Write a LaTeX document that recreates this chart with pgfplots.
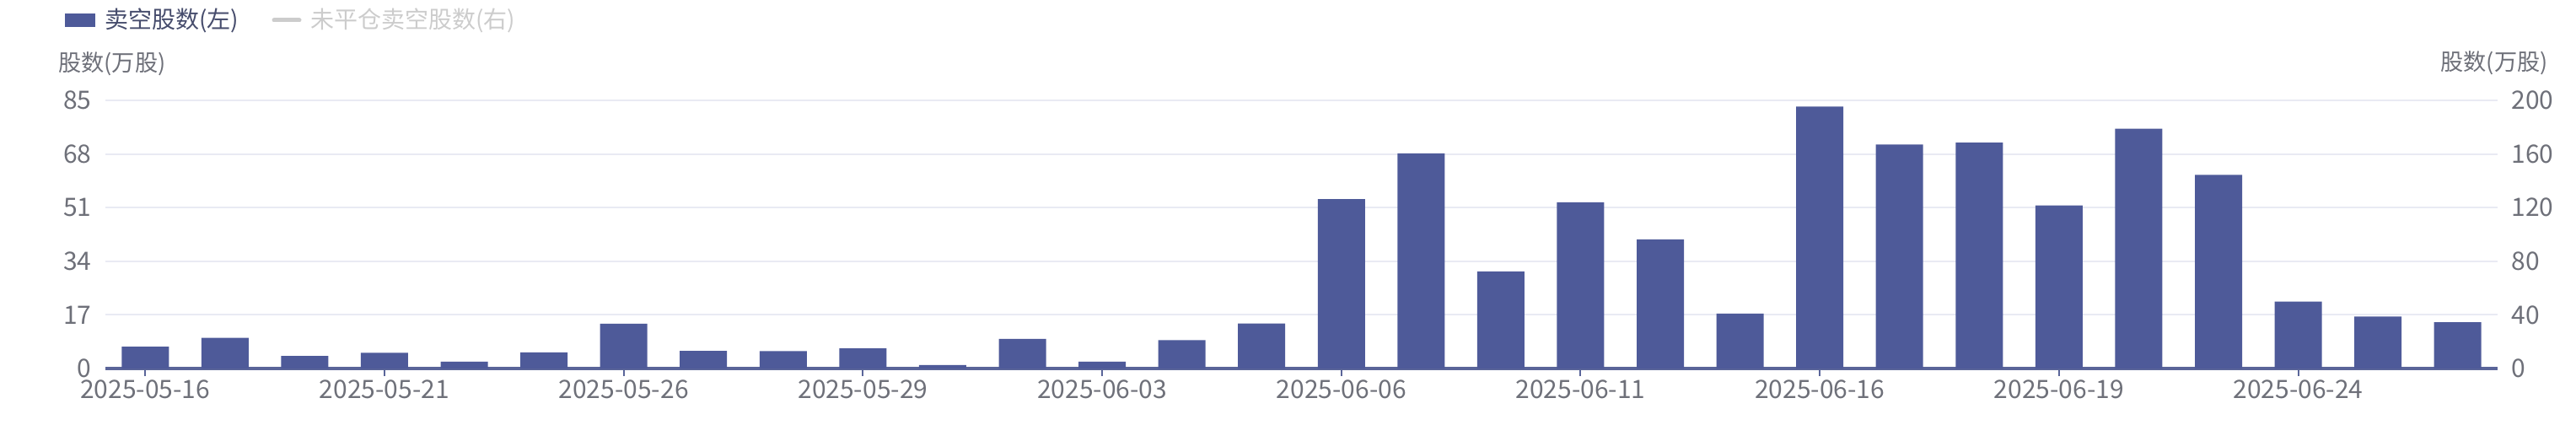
\documentclass[border=0pt]{standalone}
\usepackage{fontspec}
\setmainfont{Noto Sans CJK SC}
\usepackage{pgfplots}
\pgfplotsset{compat=1.18}
\definecolor{barc}{HTML}{4E5A99}
\definecolor{axisc}{HTML}{5A6599}
\definecolor{tickc}{HTML}{6E7079}
\definecolor{gridc}{HTML}{E9EAF3}
\definecolor{legc}{HTML}{464C6C}
\definecolor{offc}{HTML}{CCCCCC}
\pgfplotstableread{
x y
0 6.9
1 9.75
2 4.0
3 5.0
4 2.2
5 5.1
6 14.2
7 5.6
8 5.5
9 6.35
10 1.1
11 9.4
12 2.2
13 9.0
14 14.3
15 53.7
16 68.2
17 30.8
18 52.7
19 40.9
20 17.4
21 83.0
22 71.0
23 71.6
24 51.7
25 76.0
26 61.4
27 21.2
28 16.5
29 14.7
}\shortdata
\begin{document}
\begin{tikzpicture}
\useasboundingbox (0,0) rectangle (1527.5pt,251.5pt);
\begin{axis}[
  at={(62.5pt,33pt)}, anchor=south west,
  scale only axis, width=1418.5pt, height=159pt,
  xmin=-0.5, xmax=29.5, ymin=0, ymax=85,
  ytick={0,17,34,51,68,85},
  xtick={0,3,...,27},
  xticklabels={2025-05-16,2025-05-21,2025-05-26,2025-05-29,2025-06-03,2025-06-06,2025-06-11,2025-06-16,2025-06-19,2025-06-24},
  axis x line*=bottom, axis y line*=left,
  x axis line style={draw=axisc, line width=1.75pt, -},
  y axis line style={draw=none},
  tick align=outside, major tick length=4.5pt,
  xtick style={draw=axisc, line width=1pt},
  ytick style={draw=none},
  ymajorgrids, grid style={draw=gridc, line width=1pt},
  /pgf/number format/assume math mode=true,
  yticklabel style={font=\fontsize{15}{15}\selectfont, text=tickc, anchor=east, inner sep=0pt, xshift=-3.5pt},
  xticklabel style={font=\fontsize{15}{15}\selectfont, text=tickc, anchor=north, inner sep=0pt, yshift=-2pt},
  clip=false,
]
\addplot[ybar, bar width=28pt, fill=barc, draw=none] table[x=x, y=y] {\shortdata};
\end{axis}
\begin{axis}[
  at={(62.5pt,33pt)}, anchor=south west,
  scale only axis, width=1418.5pt, height=159pt,
  xmin=-0.5, xmax=29.5, ymin=0, ymax=200,
  ytick={0,40,80,120,160,200},
  axis x line=none, axis y line*=right,
  y axis line style={draw=none},
  tick align=outside, major tick length=4.5pt,
  ytick style={draw=none},
  /pgf/number format/assume math mode=true,
  yticklabel style={font=\fontsize{15}{15}\selectfont, text=tickc, anchor=west, inner sep=0pt, xshift=3.5pt},
]
\end{axis}
% legend
\fill[barc] (38.5pt,235.5pt) rectangle (56.5pt,243.5pt);
\node[anchor=west, inner sep=0pt, text=legc, font=\fontsize{14}{14}\selectfont] at (62pt,239.5pt) {卖空股数(左)};
\draw[offc, line width=2.5pt, line cap=round] (162.5pt,239.5pt) -- (177.5pt,239.5pt);
\node[anchor=west, inner sep=0pt, text=offc, font=\fontsize{14}{14}\selectfont] at (184pt,239.5pt) {未平仓卖空股数(右)};
% axis titles
\node[anchor=west, inner sep=0pt, text=tickc, font=\fontsize{13.6}{13.6}\selectfont] at (34.5pt,213.5pt) {股数(万股)};
\node[anchor=east, inner sep=0pt, text=tickc, font=\fontsize{13.6}{13.6}\selectfont] at (1511pt,214pt) {股数(万股)};
\end{tikzpicture}
\end{document}
